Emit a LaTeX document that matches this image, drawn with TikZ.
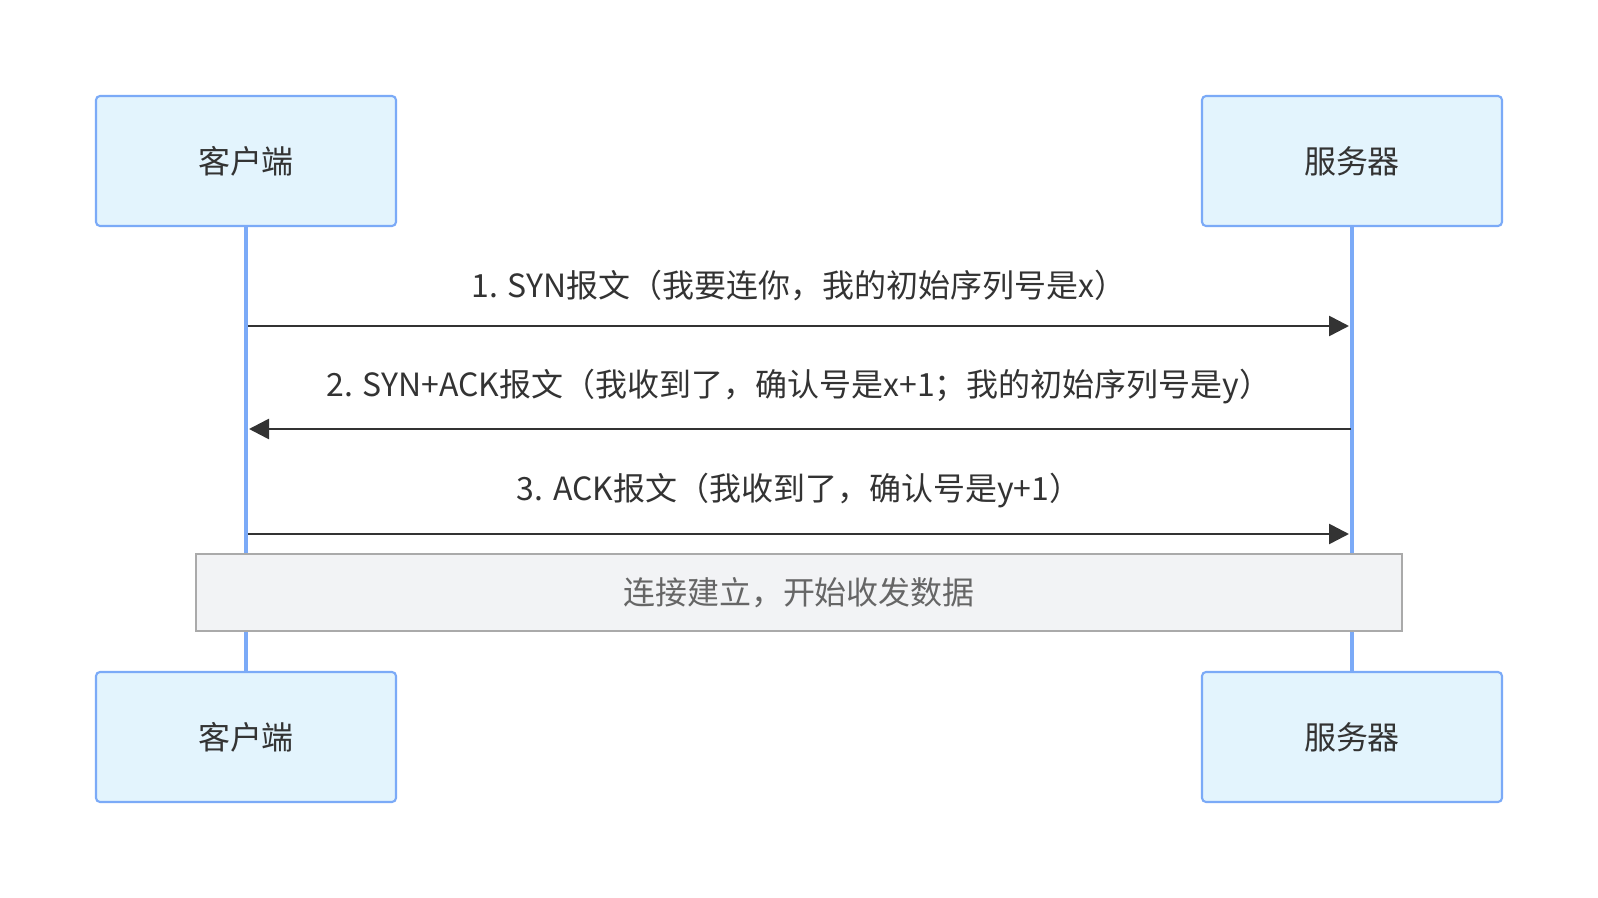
\documentclass[tikz,border=0pt]{standalone}
\usepackage{fontspec}
\setmainfont{Noto Sans CJK SC}
\usepackage{xcolor}
\usepackage{tikz}
\usetikzlibrary{positioning, arrows.meta}

\definecolor{actorfill}{HTML}{E3F4FD}
\definecolor{actorline}{HTML}{7BAAF7}
\definecolor{notefill}{HTML}{F2F3F5}
\definecolor{noteline}{HTML}{AAAAAA}
\definecolor{msgcolor}{HTML}{333333}

\begin{document}
\begin{tikzpicture}
			\useasboundingbox (0,0) rectangle (15.98,-8.98);
			\tikzstyle{actor}=[rectangle,rounded corners=0.04cm,draw=actorline,fill=actorfill,line width=0.6pt,minimum width=3cm,minimum height=1.3cm,text=msgcolor,font=\fontsize{9.1pt}{11pt}\selectfont]
			\tikzstyle{lifeline}=[draw=actorline,line width=1.1pt]
			\tikzstyle{msg}=[draw=msgcolor,line width=0.75pt,-{Triangle[length=0.2cm,width=0.2cm]}]
			\tikzstyle{msglabel}=[text=msgcolor,font=\fontsize{9.1pt}{11pt}\selectfont]
			\node[actor](ct) at (2.46,-1.61){客户端};
			\node[actor](st) at (13.52,-1.61){服务器};
			\node[actor](cb) at (2.46,-7.37){客户端};
			\node[actor](sb) at (13.52,-7.37){服务器};
			% lifelines
			\path[lifeline] (ct) -- (cb);
			\path[lifeline] (st) -- (sb);
			\coordinate (c1) at (2.48,-3.26);
			\coordinate (s1) at (13.49,-3.26);
			\coordinate (c2) at (2.49,-4.29);
			\coordinate (s2) at (13.51,-4.29);
			\coordinate (c3) at (2.48,-5.34);
			\coordinate (s3) at (13.49,-5.34);
			\node[msglabel](m1) at (7.99,-2.86){1. SYN报文（我要连你，我的初始序列号是x）};
			\node[msglabel](m2) at (7.99,-3.87){2. SYN+ACK报文（我收到了，确认号是x+1；我的初始序列号是y）};
			\node[msglabel](m3) at (7.99,-4.91){3. ACK报文（我收到了，确认号是y+1）};
			\path
				(c1) edge[msg] (s1)
				(s2) edge[msg] (c2)
				(c3) edge[msg] (s3);
			% note over both
			\node[rectangle,draw=noteline,fill=notefill,line width=0.6pt,minimum width=12.06cm,minimum height=0.77cm,text=black!60,font=\fontsize{9.1pt}{11pt}\selectfont](note) at (7.99,-5.925){连接建立，开始收发数据};
		\end{tikzpicture}
\end{document}
